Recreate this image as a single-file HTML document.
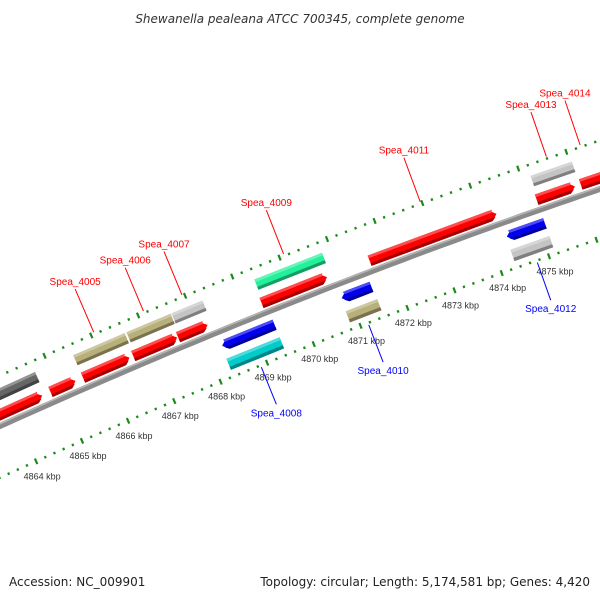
<!DOCTYPE html>
<html><head><meta charset="utf-8"><style>
body{margin:0;background:#fff}
svg{display:block;font-family:"Liberation Sans",sans-serif}
</style></head><body>
<svg id="map" width="600" height="600" viewBox="0 0 600 600" xmlns="http://www.w3.org/2000/svg">
<rect width="600" height="600" fill="#fff"/>
<g id="layer"></g>
<text x="300" y="23" text-anchor="middle" font-size="12" font-style="italic" fill="#333" style="font-family:'DejaVu Sans',sans-serif">Shewanella pealeana ATCC 700345, complete genome</text>
<text x="9" y="586" font-size="12" fill="#222" style="font-family:'DejaVu Sans',sans-serif">Accession: NC_009901</text>
<text x="590" y="586" text-anchor="end" font-size="12" fill="#222" style="font-family:'DejaVu Sans',sans-serif">Topology: circular; Length: 5,174,581 bp; Genes: 4,420</text>
</svg>
<script>
// data arrays
const geneStarts=[4861.5,4865.52,4866.66,4867.62,4869.38,4875.18, 4863.3,4864.82,4865.52,4866.60,4867.56,4869.34,4871.63,4875.14,4876.06, 4868.30,4870.85,4874.34, 4868.28,4870.83,4874.32];
const geneEnds=[4864.70,4866.62,4867.60,4868.28,4870.81,4876.04, 4864.64,4865.36,4866.52,4867.54,4868.19,4870.73,4874.30,4875.94,4877.4, 4869.42,4871.48,4875.14, 4869.42,4871.50,4875.14];
const geneTracks=[1,1,1,1,1,1, 2,2,2,2,2,2,2,2,2, 3,3,3, 4,4,4];
const geneStrand=[0,0,0,0,0,0, 1,1,1,1,1,1,1,1,1, -1,-1,-1, 0,0,0];
const geneColors=["#666666","#b8b07a","#b8b07a","#c4c4c4","#22f09a","#c4c4c4","#ff0000","#ff0000","#ff0000","#ff0000","#ff0000","#ff0000","#ff0000","#ff0000","#ff0000","#0000ee","#0000ee","#0000ee","#00cccc","#b8b07a","#c4c4c4"];
const labelNames=["Spea_4005","Spea_4006","Spea_4007","Spea_4009","Spea_4011","Spea_4013","Spea_4014","Spea_4008","Spea_4010","Spea_4012"];
const labelPos=[4866.07,4867.13,4867.95,4870.1,4872.97,4875.6,4876.3,4868.86,4871.16,4874.74];
const labelSide=[1,1,1,1,1,1,1,-1,-1,-1];
const kbpTicks=[4864,4865,4866,4867,4868,4869,4870,4871,4872,4873,4874,4875];

const NS="http://www.w3.org/2000/svg";
const layer=document.getElementById('layer');
const R=6600, d=[0.930,-0.367], n=[0.367,0.930];
const C=[300+R*n[0],299+R*n[1]];
function P(kbp,v){const u=(kbp-4869)*50.6-54.4;const f=u/R;const r=R-v;
 return [C[0]+r*(-n[0]*Math.cos(f)+d[0]*Math.sin(f)), C[1]+r*(-n[1]*Math.cos(f)+d[1]*Math.sin(f))];}
function mk(tag,attrs){const e=document.createElementNS(NS,tag);for(const k in attrs)e.setAttribute(k,attrs[k]);layer.appendChild(e);return e;}
function pts(a){return a.map(p=>p[0].toFixed(1)+','+p[1].toFixed(1)).join(' ');}
function shade(c,f){const h=c.slice(1);let r=parseInt(h.substr(0,2),16),g=parseInt(h.substr(2,2),16),b=parseInt(h.substr(4,2),16);
 if(f<0){r=r*(1+f);g=g*(1+f);b=b*(1+f);}else{r=r+(255-r)*f;g=g+(255-g)*f;b=b+(255-b)*f;}
 return 'rgb('+Math.round(r)+','+Math.round(g)+','+Math.round(b)+')';}
const trackV={1:[-35,-24],2:[-16,-5],3:[9,20],4:[28,40]};

// backbone
const bb=[];for(let k=4860;k<=4879;k+=0.25)bb.push(P(k,0));
let e=mk('polyline',{points:pts(bb),fill:'none',stroke:'#8a8a8a','stroke-width':6});


const bb2=[];for(let k=4860;k<=4879;k+=0.25)bb2.push(P(k,-2));
e=mk('polyline',{points:pts(bb2),fill:'none',stroke:'#b5b5b5','stroke-width':1.5});



// ticks
for(let i=0;i<=80;i++){const k=4862+i*0.2;const major=(i%5===0);
 [[-46,1],[47,-1]].forEach(([v,s])=>{
  const len=major?6:2.5;const a=P(k,v-len/2),b=P(k,v+len/2);
  const t=mk('line',{x1:a[0],y1:a[1],x2:b[0],y2:b[1],stroke:'#1b8a1b','stroke-width':2.2});
  
  
 });}
kbpTicks.forEach(k=>{const p=P(k,47);
 const t=mk('text',{x:p[0]+6,y:p[1]+18,'text-anchor':'middle','font-size':9,fill:'#333'});
 t.textContent=k+' kbp';
 
 });

// genes
for(let i=0;i<geneStarts.length;i++){
 const [v0,v1]=trackV[geneTracks[i]];const s=geneStarts[i],en=geneEnds[i],st=geneStrand[i];
 const head=0.12, vm=(v0+v1)/2;
 let poly;
 if(st===1)poly=[P(s,v0),P(en-head,v0),P(en,vm),P(en-head,v1),P(s,v1)];
 else if(st===-1)poly=[P(s+head,v0),P(en,v0),P(en,v1),P(s+head,v1),P(s,vm)];
 else poly=[P(s,v0),P(en,v0),P(en,v1),P(s,v1)];
 const g=mk('polygon',{points:pts(poly),fill:geneColors[i]});
 
 
 const t=(v1-v0);
 const vb=v1-t*0.28;
 let dark;
 if(st===1)dark=[P(s,vb),P(en-head*0.3,vb),P(en-head,v1),P(s,v1)];
 else if(st===-1)dark=[P(s+head*0.3,vb),P(en,vb),P(en,v1),P(s+head,v1)];
 else dark=[P(s,vb),P(en,vb),P(en,v1),P(s,v1)];
 const dd=mk('polygon',{points:pts(dark),fill:shade(geneColors[i],-0.35)});
 
 
 const vt=v0+t*0.25;
 const hl=mk('polygon',{points:pts([P(s+(st===-1?head*0.5:0),v0),P(en-(st===1?head*0.5:0),v0),P(en-(st===1?head*0.7:0),vt),P(s+(st===-1?head*0.7:0),vt)]),fill:shade(geneColors[i],0.3)});
 
 
}

// labels
for(let i=0;i<labelNames.length;i++){
 const k=labelPos[i],sd=labelSide[i];
 const a=sd===1?P(k,-48):P(k,49), b=sd===1?P(k,-95):P(k,89);
 const col=sd===1?'#ff0000':'#0000ff';
 const l=mk('line',{x1:a[0],y1:a[1],x2:b[0],y2:b[1],stroke:col,'stroke-width':1});
 
 
 const tx=mk('text',{x:b[0],y:sd===1?b[1]-4:b[1]+12,'text-anchor':'middle','font-size':10,fill:col});
 tx.textContent=labelNames[i];
 
 
}
</script>
</body></html>
